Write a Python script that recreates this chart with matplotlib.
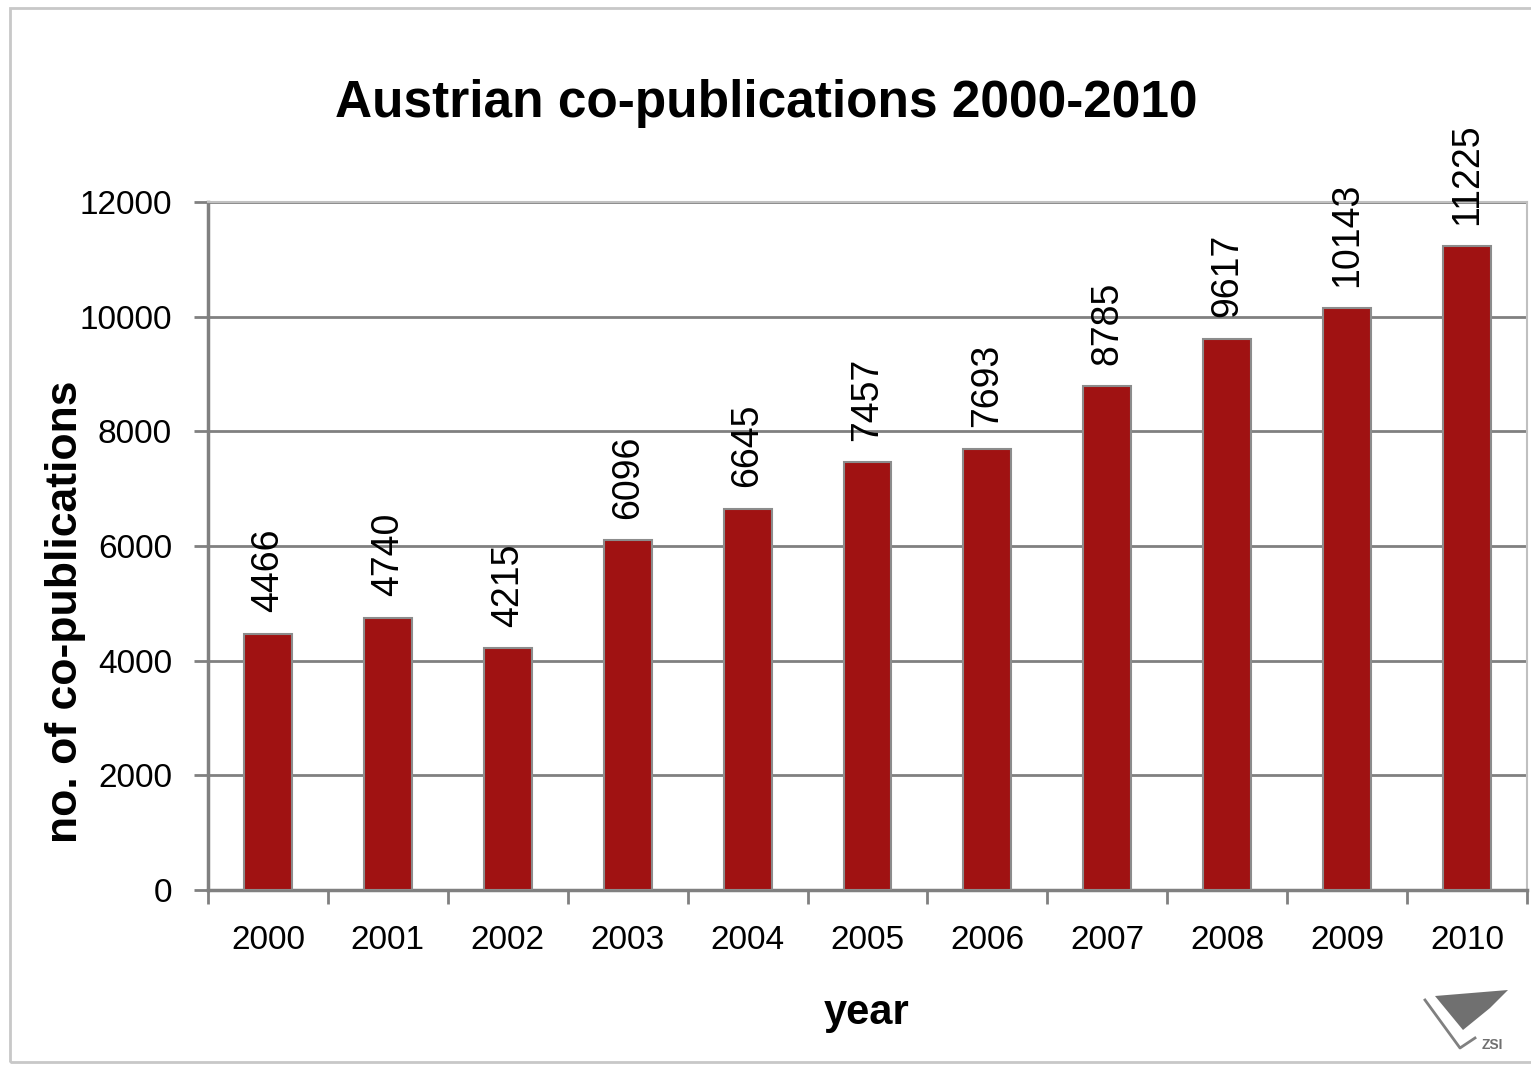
import matplotlib.pyplot as plt
import numpy as np
from matplotlib.patches import Rectangle, Polygon
from matplotlib.lines import Line2D

years = ['2000', '2001', '2002', '2003', '2004', '2005', '2006', '2007', '2008', '2009', '2010']
copubs = [4466, 4740, 4215, 6096, 6645, 7457, 7693, 8785, 9617, 10143, 11225]

plain = ['Liberation Sans', 'DejaVu Sans']

fig = plt.figure(figsize=(15.31, 10.66), dpi=100)
ax = fig.add_axes([208 / 1531, 176 / 1066, 1319 / 1531, 688 / 1066])

x = np.arange(len(years))
ax.bar(x, copubs, width=0.4, color='#A01212', edgecolor='#8c8c8c', linewidth=1.5, zorder=3)

for xi, v in zip(x, copubs):
    ax.text(xi, v + 380, str(v), rotation=90, ha='center', va='bottom',
            fontsize=27, family=plain, zorder=4)

ax.set_xlim(-0.5, len(years) - 0.5)
ax.set_ylim(0, 12000)
ax.set_yticks(np.arange(0, 12001, 2000))
ax.set_yticklabels([str(t) for t in range(0, 12001, 2000)], family=plain, fontsize=24)
ax.set_xticks(x)
ax.set_xticklabels(years, family=plain, fontsize=24)
ax.set_xticks(np.arange(-0.5, len(years), 1), minor=True)
ax.tick_params(axis='x', which='major', length=0, pad=25)
ax.tick_params(axis='x', which='minor', length=10, width=2, color='#808080', direction='out')
ax.tick_params(axis='y', length=10, width=2, color='#808080', pad=16)

ax.grid(axis='y', color='#808080', linewidth=2, zorder=0)
ax.set_axisbelow(True)

for s in ['left', 'bottom']:
    ax.spines[s].set_color('#808080')
    ax.spines[s].set_linewidth(2.5)
for s in ['top', 'right']:
    ax.spines[s].set_color('#c0c0c0')
    ax.spines[s].set_linewidth(1.5)

fig.text(66 / 1531, 1 - 612 / 1066, 'no. of co-publications', rotation=90, ha='center', va='center',
         fontsize=32, fontweight='bold', family=plain)
fig.text(867 / 1531, 1 - 1013 / 1066, 'year', ha='center', va='center',
         fontsize=30, fontweight='bold', family=plain)

fig.text(766 / 1531, 1 - 104 / 1066, 'Austrian co-publications 2000-2010', ha='center', va='center',
         fontsize=37, fontweight='bold', family=plain)

# outer border
fig.patches.append(Rectangle((10 / 1531, 4 / 1066), 1530 / 1531, 1054 / 1066, transform=fig.transFigure,
                             fill=False, edgecolor='#c8c8c8', linewidth=2))

# logo
logo = [(1435, 996), (1508, 990), (1490, 1008), (1463, 1030)]
fig.patches.append(Polygon([(px / 1531, 1 - py / 1066) for px, py in logo], closed=True,
                           transform=fig.transFigure, facecolor='#707070', edgecolor='none'))
vx = [1425, 1460, 1475]
vy = [1000, 1048, 1038]
fig.lines.append(Line2D([px / 1531 for px in vx], [1 - py / 1066 for py in vy], transform=fig.transFigure,
                        color='#808080', linewidth=2))
fig.text(1492 / 1531, 1 - 1045 / 1066, 'ZSI', ha='center', va='center', fontsize=10,
         fontweight='bold', color='#707070', family=plain)

fig.savefig('out.png', dpi=100)
